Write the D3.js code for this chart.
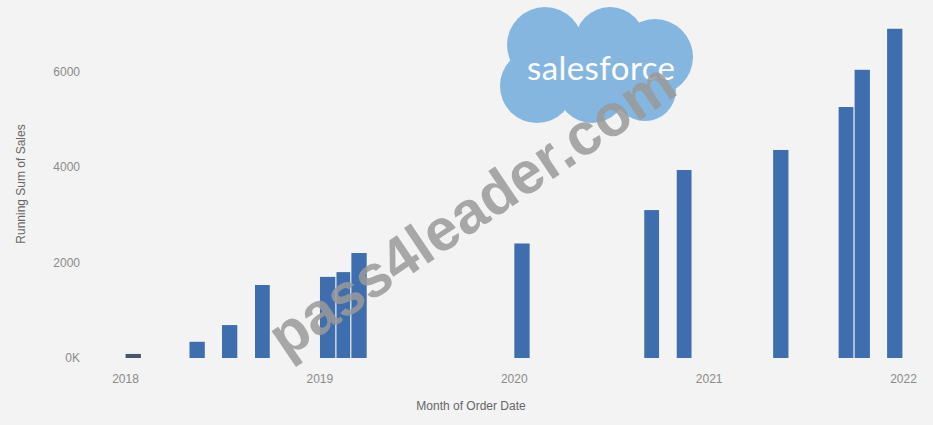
<!DOCTYPE html>
<html>
<head>
<meta charset="utf-8">
<script src="https://cdn.jsdelivr.net/npm/d3@7"></script>
<style>
  html, body { margin: 0; padding: 0; background: #f3f3f3; }
  svg { display: block; }
</style>
</head>
<body>
<script>
// running sum of sales, one bar per month that has orders
const months = [
  "2018-01", "2018-05", "2018-07", "2018-09",
  "2019-01", "2019-02", "2019-03",
  "2020-01", "2020-09", "2020-11",
  "2021-05", "2021-09", "2021-10", "2021-12",
]
const runningSum = [
  85, 340, 690, 1530,
  1700, 1800, 2200,
  2400, 3100, 3940,
  4360, 5260, 6040, 6900,
]
const yTicks = [0, 2000, 4000, 6000]
const yTickLabels = ["0K", "2000", "4000", "6000"]
const xTickYears = ["2018", "2019", "2020", "2021", "2022"]

function drawChart() {
  const parseMonth = d3.timeParse("%Y-%m")
  const parseYear = d3.timeParse("%Y")
  const dataset = months.map((m, i) => ({date: parseMonth(m), value: runningSum[i]}))

  const xAccessor = d => d.date
  const yAccessor = d => d.value

  let dimensions = {
    width: 933,
    height: 425,
    margin: {top: 24, right: 30, bottom: 67, left: 100},
  }
  dimensions.boundedWidth = dimensions.width - dimensions.margin.left - dimensions.margin.right
  dimensions.boundedHeight = dimensions.height - dimensions.margin.top - dimensions.margin.bottom

  const wrapper = d3.select("body")
    .append("svg")
      .attr("width", dimensions.width)
      .attr("height", dimensions.height)
      .style("font-family", "'Liberation Sans', Arial, sans-serif")

  wrapper.append("rect")
      .attr("width", dimensions.width)
      .attr("height", dimensions.height)
      .attr("fill", "#f3f3f3")

  const bounds = wrapper.append("g")
      .attr("transform", `translate(${dimensions.margin.left}, ${dimensions.margin.top})`)

  // scales
  const xScale = d3.scaleTime()
    .domain([parseYear("2018"), parseYear("2022")])
    .range([25, 803])

  const yScale = d3.scaleLinear()
    .domain([0, 7000])
    .range([dimensions.boundedHeight, 0])

  // bars
  bounds.selectAll("rect.bar")
    .data(dataset)
    .join("rect")
      .attr("class", "bar")
      .attr("x", d => xScale(xAccessor(d)) + 0.6)
      .attr("width", d => xScale(d3.timeMonth.offset(xAccessor(d), 1)) - xScale(xAccessor(d)) - 1.2)
      .attr("y", d => yScale(yAccessor(d)))
      .attr("height", d => dimensions.boundedHeight - yScale(yAccessor(d)))
      .attr("fill", (d, i) => i == 0 ? "#4a5568" : "#3f6eae")

  // axes
  const yAxisGenerator = d3.axisLeft()
    .scale(yScale)
    .tickValues(yTicks)
    .tickFormat((d, i) => yTickLabels[i])
    .tickSize(0)
    .tickPadding(20)

  const yAxis = bounds.append("g")
      .call(yAxisGenerator)
  yAxis.select(".domain").remove()
  yAxis.selectAll("text")
      .attr("fill", "#8a8a8a")
      .style("font-size", "12px")

  const xAxisGenerator = d3.axisBottom()
    .scale(xScale)
    .tickValues(xTickYears.map(parseYear))
    .tickFormat(d3.timeFormat("%Y"))
    .tickSize(0)
    .tickPadding(16)

  const xAxis = bounds.append("g")
      .attr("transform", `translate(0, ${dimensions.boundedHeight})`)
      .call(xAxisGenerator)
  xAxis.select(".domain").remove()
  xAxis.selectAll("text")
      .attr("fill", "#8a8a8a")
      .style("font-size", "12px")

  xAxis.append("text")
      .attr("x", 371)
      .attr("y", 52)
      .attr("fill", "#666")
      .style("font-size", "12px")
      .style("text-anchor", "middle")
      .text("Month of Order Date")

  yAxis.append("text")
      .attr("x", -(160))
      .attr("y", -75)
      .attr("fill", "#666")
      .style("transform", "rotate(-90deg)")
      .style("text-anchor", "middle")
      .style("font-size", "12px")
      .text("Running Sum of Sales")

  // salesforce cloud logo
  const cloudBumps = [
    [545, 45, 38], [610, 42, 35], [655, 57, 38],
    [537, 86, 37], [592, 88, 35], [645, 90, 31], [600, 68, 45],
  ]
  const logo = wrapper.append("g")
  logo.selectAll("circle")
    .data(cloudBumps)
    .join("circle")
      .attr("cx", d => d[0])
      .attr("cy", d => d[1])
      .attr("r", d => d[2])
      .attr("fill", "#85b6e0")
  logo.append("text")
      .attr("x", 601)
      .attr("y", 80)
      .attr("fill", "#ffffff")
      .style("font-family", "Lato, 'Open Sans', sans-serif")
      .style("font-size", "33px")
      .style("text-anchor", "middle")
      .attr("textLength", 148)
      .text("salesforce")

  // watermark
  wrapper.append("text")
      .attr("transform", "translate(474, 213) rotate(-34)")
      .attr("dy", "0.27em")
      .attr("fill", "#9a9a9a")
      .attr("opacity", 0.85)
      .style("font-weight", "bold")
      .style("font-size", "59px")
      .style("text-anchor", "middle")
      .text("pass4leader.com")
}
drawChart()
</script>
</body>
</html>
